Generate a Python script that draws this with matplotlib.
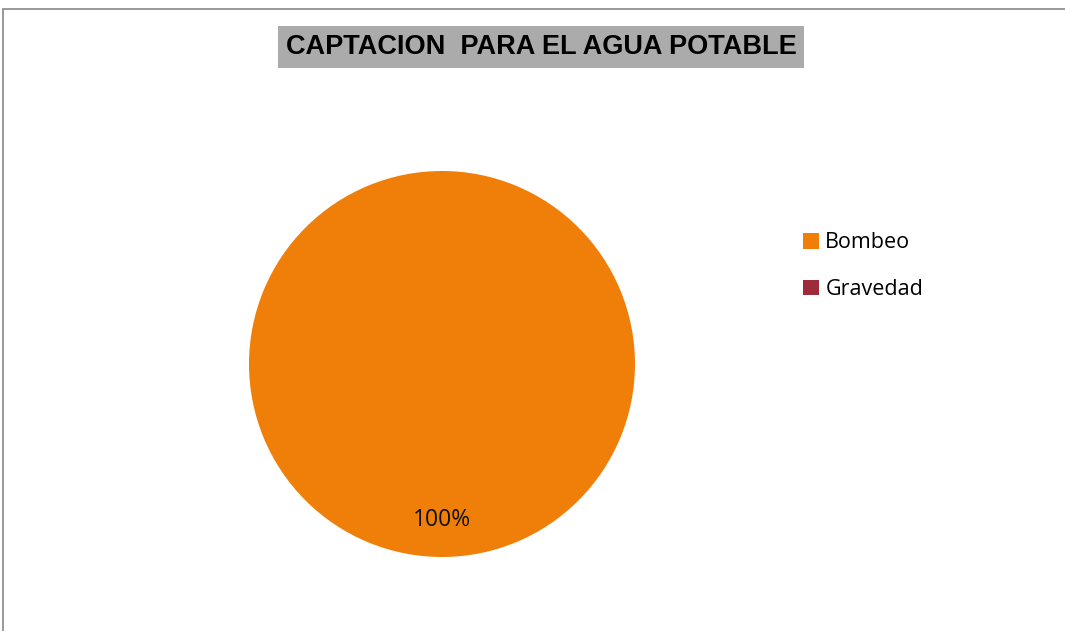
import matplotlib.pyplot as plt
from matplotlib.patches import Rectangle

labels = ["Bombeo", "Gravedad"]
values = [100, 0]
colors = ["#F07F09", "#9E2A3A"]
title = "CAPTACION  PARA EL AGUA POTABLE"

W, H = 1065, 631
fig = plt.figure(figsize=(W / 100, H / 100), dpi=100)

# outer chart frame (runs off the right and bottom edges)
fig.patches.append(Rectangle((3 / W, -0.1), 1.2, 1 - 9 / H + 0.1, transform=fig.transFigure,
                             fill=False, edgecolor="#888888", lw=1.2))

# pie, centred at about (442, 364) px with radius ~193 px
cx, cy, r = 442, 364, 193
ax = fig.add_axes([(cx - r) / W, (H - cy - r) / H, 2 * r / W, 2 * r / H])
total = sum(values)
wedges, _ = ax.pie(values, colors=colors, startangle=90, counterclock=False, radius=1.0,
                   wedgeprops=dict(linewidth=0))
ax.set_xlim(-1, 1)
ax.set_ylim(-1, 1)
ax.set_aspect("equal")
ax.axis("off")

# data labels, only for slices with a share
for v in values:
    if v > 0:
        ax.text(0, -0.81, f"{v / total:.0%}", ha="center", va="center",
                fontsize=16.5, family="Open Sans", color="#111111")

# title with grey background
fig.text(541 / W, 1 - 47 / H, title, ha="center", va="center", fontsize=19.5,
         fontweight="bold", family="Liberation Sans", color="black",
         bbox=dict(boxstyle="square,pad=0.28", facecolor="#ABABAB", edgecolor="none"))

# legend
leg = fig.legend(wedges, labels, loc="upper left", bbox_to_anchor=(784 / W, 1 - 213 / H),
                 frameon=False, prop=dict(family="Open Sans", size=15.5),
                 handlelength=0.72, handleheight=0.72, handletextpad=0.3, labelspacing=1.2)

fig.savefig("out.png", dpi=100)
